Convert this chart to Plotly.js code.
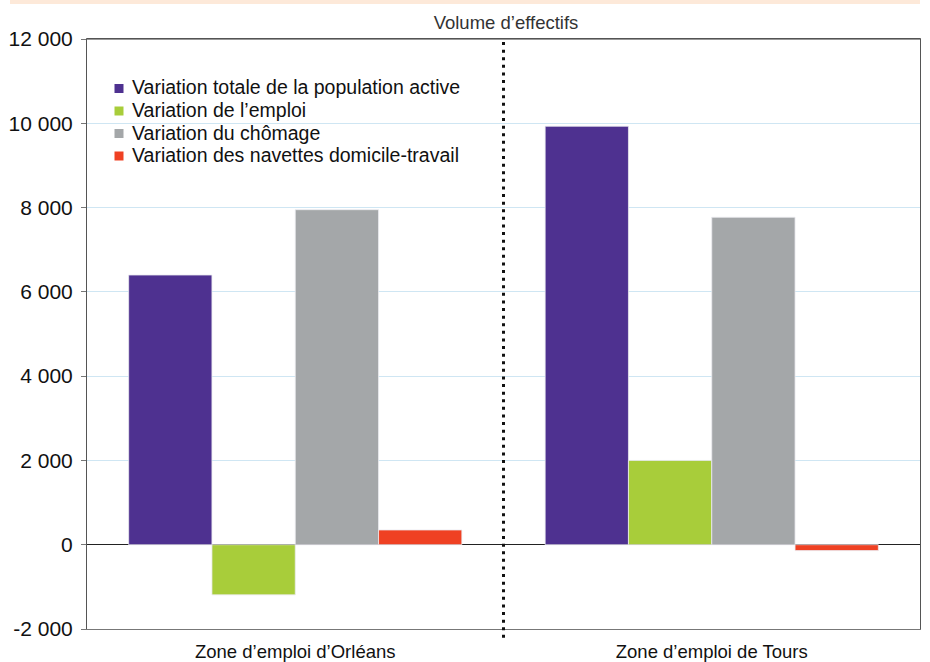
<!DOCTYPE html>
<html>
<head>
<meta charset="utf-8">
<script src="https://cdn.plot.ly/plotly-3.0.1.min.js"></script>
<style>
  html, body { margin: 0; padding: 0; background: #ffffff; }
  #chart { width: 930px; height: 662px; }
</style>
</head>
<body>
<div id="chart"></div>
<script>
// Zones d'emploi compared
const zones = ["Zone d\u2019emploi d\u2019Orl\u00e9ans", "Zone d\u2019emploi de Tours"];

// Variations (volume d'effectifs) for each zone
const popActive = [6400, 9930];
const emploi = [-1190, 2000];
const chomage = [7950, 7770];
const navettes = [350, -140];

const seriesNames = [
  "Variation totale de la population active",
  "Variation de l\u2019emploi",
  "Variation du ch\u00f4mage",
  "Variation des navettes domicile-travail"
];
const seriesColors = ["#4e3190", "#a8cd3a", "#a4a7a9", "#ef4123"];

// Y axis ticks
const yTickVals = [-2000, 0, 2000, 4000, 6000, 8000, 10000, 12000];
const yTickText = ["-2 000", "0", "2 000", "4 000", "6 000", "8 000", "10 000", "12 000"];

const values = [popActive, emploi, chomage, navettes];
const traces = values.map((v, i) => ({
  type: "bar",
  x: zones,
  y: v,
  name: seriesNames[i],
  showlegend: false,
  marker: { color: seriesColors[i], line: { color: "rgba(235,235,240,0.8)", width: 1 } },
  hoverinfo: "y+name"
}));

// Compact legend block: coloured squares + labels, on a white panel
const plotTop = 39, plotH = 590;
const toPaperY = px => (plotTop + plotH - px) / plotH;
const plotLeft = 87, plotW = 833;
const toPaperX = px => (px - plotLeft) / plotW;

const legendRowPx = [88.5, 111, 133.5, 156];
const legendShapes = [
  { type: "rect", xref: "paper", yref: "paper",
    x0: toPaperX(100), x1: toPaperX(473), y0: toPaperY(170), y1: toPaperY(72),
    fillcolor: "#ffffff", line: { width: 0 }, layer: "between" }
];
const legendNotes = [];
seriesNames.forEach((name, i) => {
  const yc = legendRowPx[i];
  legendShapes.push({
    type: "rect", xref: "paper", yref: "paper",
    x0: toPaperX(114.5), x1: toPaperX(123.5), y0: toPaperY(yc + 4.5), y1: toPaperY(yc - 4.5),
    fillcolor: seriesColors[i], line: { width: 0 }
  });
  legendNotes.push({
    xref: "paper", yref: "paper", x: toPaperX(130), y: toPaperY(yc - 1),
    xanchor: "left", yanchor: "middle", showarrow: false,
    text: name, font: { size: 19.5, color: "#111111" }
  });
});

const layout = {
  width: 930,
  height: 662,
  margin: { l: plotLeft, r: 10, t: plotTop, b: 33 },
  paper_bgcolor: "#ffffff",
  plot_bgcolor: "#ffffff",
  font: { family: "Liberation Sans, Arial, sans-serif", color: "#111111" },
  barmode: "group",
  bargap: 0.2,
  bargroupgap: 0,
  showlegend: false,
  title: {
    text: "Volume d\u2019effectifs",
    font: { size: 18.5, color: "#333333" },
    x: 506 / 930, xanchor: "center",
    y: 1 - 23 / 662, yanchor: "middle"
  },
  xaxis: {
    type: "category",
    showgrid: false,
    showline: true,
    linecolor: "#777777",
    linewidth: 1,
    mirror: true,
    ticks: "outside",
    ticklen: 6,
    tickcolor: "rgba(0,0,0,0)",
    tickfont: { size: 18.5, color: "#111111" },
    fixedrange: true
  },
  yaxis: {
    range: [-2000, 12000],
    tickvals: yTickVals,
    ticktext: yTickText,
    showgrid: true,
    gridcolor: "#cfe6f3",
    gridwidth: 1,
    zeroline: true,
    zerolinecolor: "#222222",
    zerolinewidth: 1,
    showline: true,
    linecolor: "#555555",
    linewidth: 1,
    mirror: true,
    ticks: "outside",
    ticklen: 5,
    tickcolor: "#777777",
    ticklabelstandoff: 4,
    tickfont: { size: 21, color: "#111111" },
    fixedrange: true
  },
  annotations: legendNotes,
  shapes: [
    // top banner band
    { type: "rect", xref: "paper", yref: "paper", x0: toPaperX(10), x1: 1.0, y0: toPaperY(4), y1: toPaperY(-1),
      fillcolor: "#fde9d9", line: { width: 0 }, layer: "below" },
    // darker top frame line
    { type: "line", xref: "paper", yref: "paper", x0: 0, x1: 1, y0: 1, y1: 1,
      line: { color: "#333333", width: 1.2 } },
    // dotted separator between the two zones
    { type: "line", xref: "paper", yref: "paper", x0: 0.5, x1: 0.5, y0: -0.015, y1: 1,
      line: { color: "#111111", width: 3, dash: "3px,4.6px" } }
  ].concat(legendShapes)
};

Plotly.newPlot("chart", traces, layout, { displayModeBar: false });
</script>
</body>
</html>
